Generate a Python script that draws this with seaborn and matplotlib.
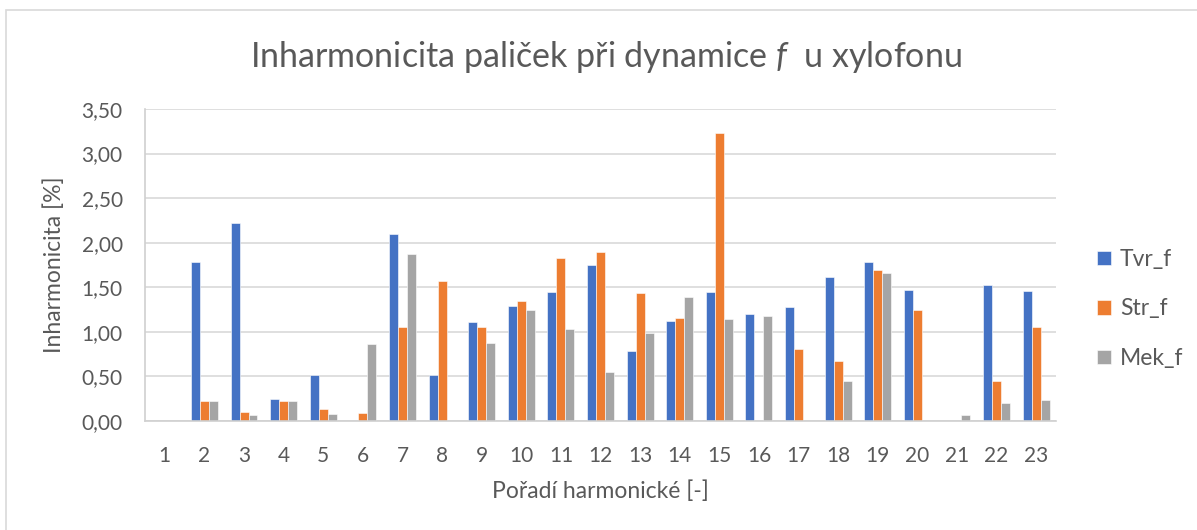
import numpy as np
import pandas as pd
import matplotlib
matplotlib.use("Agg")
import matplotlib.pyplot as plt
import seaborn as sns
from matplotlib.patches import Rectangle

harmonics = [str(i) for i in range(1, 24)]
tvr_f = [np.nan, 1.78, 2.22, 0.25, 0.52, np.nan, 2.10, 0.52, 1.11, 1.29, 1.45, 1.75,
         0.78, 1.12, 1.45, 1.20, 1.28, 1.62, 1.78, 1.47, np.nan, 1.53, 1.46]
str_f = [np.nan, 0.22, 0.10, 0.22, 0.13, 0.09, 1.05, 1.57, 1.06, 1.35, 1.83, 1.90,
         1.44, 1.15, 3.23, np.nan, 0.81, 0.67, 1.69, 1.24, np.nan, 0.45, 1.06]
mek_f = [np.nan, 0.22, 0.07, 0.22, 0.08, 0.86, 1.87, np.nan, 0.88, 1.25, 1.03, 0.55,
         0.99, 1.39, 1.14, 1.18, np.nan, 0.45, 1.66, np.nan, 0.07, 0.20, 0.24]
series_names = ["Tvr_f", "Str_f", "Mek_f"]
colors = ["#4472C4", "#ED7D31", "#A5A5A5"]
yticks = [0, 0.5, 1.0, 1.5, 2.0, 2.5, 3.0, 3.5]

df = pd.DataFrame({
    "harm": harmonics * 3,
    "val": tvr_f + str_f + mek_f,
    "series": [s for s in series_names for _ in harmonics],
})

sns.set_theme(style="white")
plt.rcParams["font.family"] = ["Lato", "DejaVu Sans"]
plt.rcParams["mathtext.fontset"] = "custom"
plt.rcParams["mathtext.rm"] = "Lato"
plt.rcParams["mathtext.it"] = "Lato:italic"

txt = "#595959"
W, H = 1197, 530
fig = plt.figure(figsize=(W / 100, H / 100), dpi=100)
fig.patch.set_facecolor("white")
fig.add_artist(Rectangle((6 / W, -0.1), 1.2, (H - 10) / H + 0.1, transform=fig.transFigure,
                         fill=False, edgecolor="#D9D9D9", linewidth=1.2))

ax = fig.add_axes([145 / W, 1 - 421 / H, (1056 - 145) / W, (421 - 109) / H])
sns.barplot(data=df, x="harm", y="val", hue="series", order=harmonics,
            hue_order=series_names, palette=colors, width=0.68, ax=ax,
            edgecolor="white", linewidth=0.4, saturation=1, err_kws={"linewidth": 0})

ax.set_ylim(0, 3.5)
ax.set_xlim(-0.5, len(harmonics) - 0.5)
ax.set_yticks(yticks)
ax.set_yticklabels([f"{v:.2f}".replace(".", ",") for v in yticks])
ax.yaxis.grid(True, color="#D9D9D9", linewidth=1.2)
ax.set_axisbelow(True)
for s in ["top", "right"]:
    ax.spines[s].set_visible(False)
for s in ["left", "bottom"]:
    ax.spines[s].set_color("#D0D0D0")
    ax.spines[s].set_linewidth(1.2)
ax.tick_params(axis="both", length=0, labelsize=15, colors=txt)
ax.tick_params(axis="y", pad=16)
ax.tick_params(axis="x", pad=18)

ax.set_xlabel("Pořadí harmonické [-]", fontsize=16.5, color=txt, labelpad=10)
ax.set_ylabel("Inharmonicita [%]", fontsize=16.5, color=txt, labelpad=12)

fig.text(606 / W, 1 - 57 / H, r"Inharmonicita paliček při dynamice $f$  u xylofonu",
         ha="center", va="center", fontsize=24.5, color=txt)

handles, labels = ax.get_legend_handles_labels()
ax.legend(handles, labels, loc="center left", bbox_to_anchor=(1097 / W, 1 - 309 / H),
          bbox_transform=fig.transFigure, frameon=False, fontsize=16.5,
          labelcolor=txt, handlelength=0.6, handleheight=0.6, handletextpad=0.4,
          labelspacing=1.25, borderpad=0, borderaxespad=0)

fig.savefig("out.png", dpi=100)
